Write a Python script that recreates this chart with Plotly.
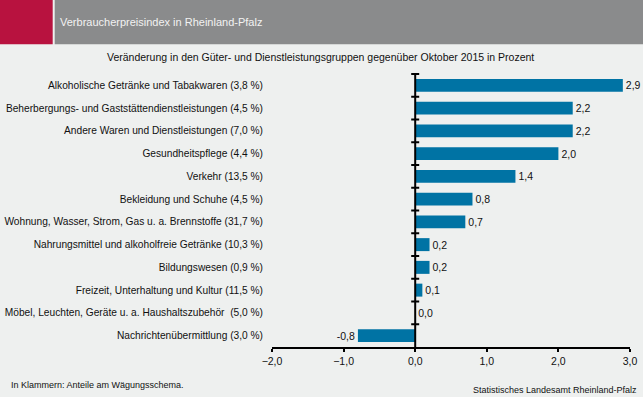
import plotly.graph_objects as go

categories = [
    "Alkoholische Getränke und Tabakwaren (3,8 %)",
    "Beherbergungs- und Gaststättendienstleistungen (4,5 %)",
    "Andere Waren und Dienstleistungen (7,0 %)",
    "Gesundheitspflege (4,4 %)",
    "Verkehr (13,5 %)",
    "Bekleidung und Schuhe (4,5 %)",
    "Wohnung, Wasser, Strom, Gas u. a. Brennstoffe (31,7 %)",
    "Nahrungsmittel und alkoholfreie Getränke (10,3 %)",
    "Bildungswesen (0,9 %)",
    "Freizeit, Unterhaltung und Kultur (11,5 %)",
    "Möbel, Leuchten, Geräte u. a. Haushaltszubehör  (5,0 %)",
    "Nachrichtenübermittlung (3,0 %)",
]
values = [2.9, 2.2, 2.2, 2.0, 1.4, 0.8, 0.7, 0.2, 0.2, 0.1, 0.0, -0.8]
x_ticks = [-2, -1, 0, 1, 2, 3]

W, H = 643, 397
L, R, T, B = 272, 13, 73, 50
PW, PH = W - L - R, H - T - B

def px(x):
    return (x - L) / PW

def py(y):
    return (H - B - y) / PH

FONT = "Liberation Sans, Arial, sans-serif"
TXT = "#111111"

fig = go.Figure(go.Bar(
    x=values, y=categories, orientation="h",
    marker=dict(color="#0073a4", line=dict(width=0)),
    width=0.57,
    texttemplate="%{x:.1f}", textposition="outside",
    textfont=dict(family=FONT, size=10.5, color=TXT),
    cliponaxis=False,
))

shapes = []
# header
shapes.append(dict(type="rect", xref="paper", yref="paper", x0=px(0), x1=px(52.7),
                   y0=py(44.3), y1=py(0), fillcolor="#b8123f", line=dict(width=0), layer="below"))
shapes.append(dict(type="rect", xref="paper", yref="paper", x0=px(54.7), x1=px(643),
                   y0=py(44.3), y1=py(0), fillcolor="#8a8b8c", line=dict(width=0), layer="below"))
# zero axis line
shapes.append(dict(type="line", xref="x", yref="paper", x0=0, x1=0, y0=0, y1=1,
                   line=dict(color="black", width=2)))
# boundary ticks on zero axis
for i in range(len(categories)):
    shapes.append(dict(type="line", xref="x", yref="y", xsizemode="pixel", xanchor=0,
                       x0=-4, x1=4, y0=i - 0.5, y1=i - 0.5,
                       line=dict(color="black", width=2)))

annotations = [
    dict(text="Verbraucherpreisindex in Rheinland-Pfalz", xref="paper", yref="paper",
         x=px(58), y=py(22.3), xanchor="left", yanchor="middle", showarrow=False,
         font=dict(family=FONT, size=11, color="#f2f2f2")),
    dict(text="Veränderung in den Güter- und Dienstleistungsgruppen gegenüber Oktober 2015 in Prozent",
         xref="paper", yref="paper", x=px(320), y=py(56.7), xanchor="center", yanchor="middle",
         showarrow=False, font=dict(family=FONT, size=10.5, color=TXT)),
    dict(text="In Klammern: Anteile am Wägungsschema.", xref="paper", yref="paper",
         x=px(9), y=py(385), xanchor="left", yanchor="middle", showarrow=False,
         font=dict(family=FONT, size=9, color=TXT)),
    dict(text="Statistisches Landesamt Rheinland-Pfalz", xref="paper", yref="paper",
         x=px(639), y=py(390), xanchor="right", yanchor="middle", showarrow=False,
         font=dict(family=FONT, size=9, color=TXT)),
]

fig.update_layout(
    width=W, height=H,
    margin=dict(l=L, r=R, t=T, b=B, autoexpand=False),
    paper_bgcolor="#eef0ef", plot_bgcolor="#eef0ef",
    separators=",.",
    showlegend=False,
    bargap=0.43,
    shapes=shapes,
    annotations=annotations,
    font=dict(family=FONT, size=10, color=TXT),
    xaxis=dict(range=[-2, 3], tickvals=x_ticks, tickformat=".1f",
               showgrid=False, zeroline=False,
               showline=True, linecolor="black", linewidth=2,
               ticks="outside", ticklen=3, tickwidth=2, tickcolor="black",
               tickfont=dict(family=FONT, size=10.5, color=TXT), fixedrange=True),
    yaxis=dict(autorange="reversed", showgrid=False, zeroline=False, showline=False,
               ticks="", ticklabelstandoff=8,
               tickfont=dict(family=FONT, size=10.2, color=TXT), fixedrange=True),
)

fig.write_html(
    "out.html",
    config={"displayModeBar": False},
    post_script="document.body.style.margin='0';document.body.style.padding='0';"
                "document.body.style.overflow='hidden';",
)
